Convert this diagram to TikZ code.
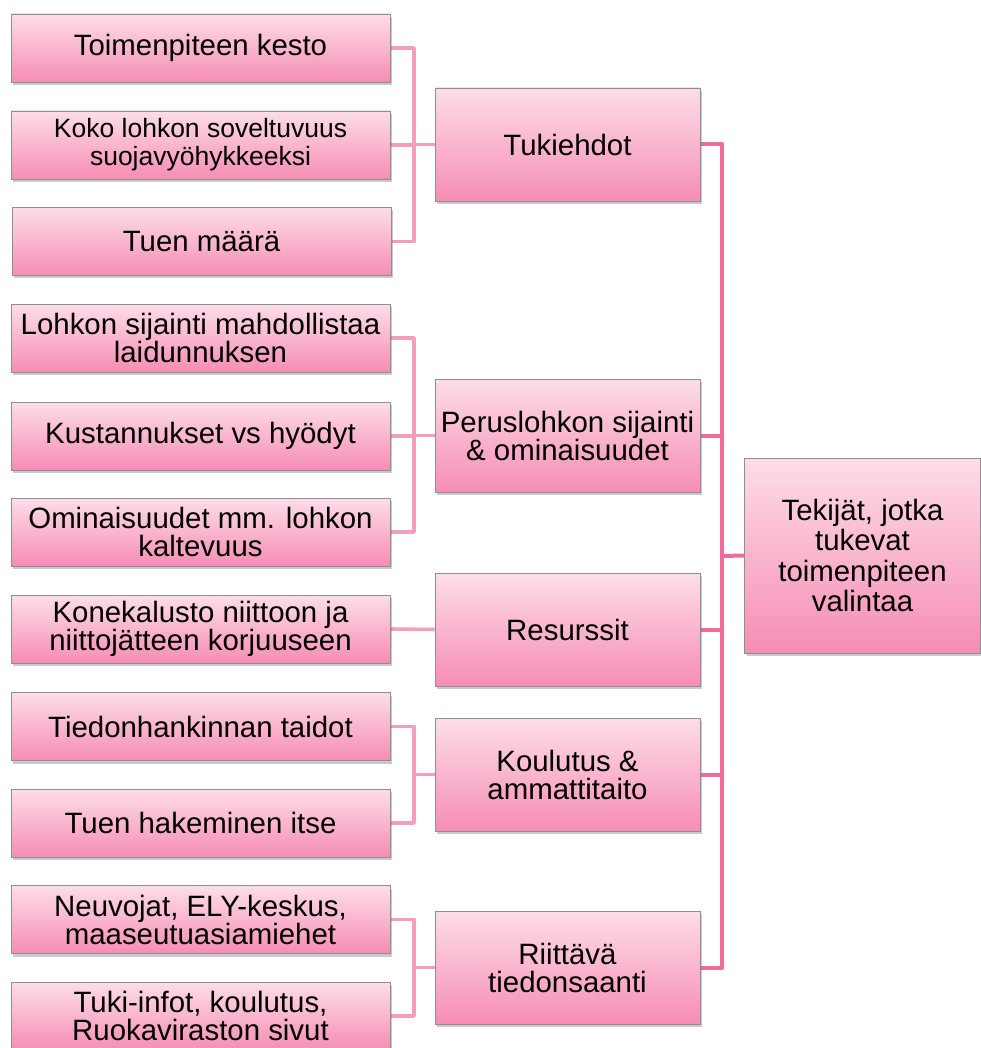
\documentclass[tikz,border=0pt]{standalone}
\usepackage{fontspec}
\setmainfont{Liberation Sans}
\usetikzlibrary{shadows,backgrounds,calc}
\definecolor{pinktop}{HTML}{FDDDE9}
\definecolor{pinkbot}{HTML}{F68DB5}
\definecolor{boxedge}{HTML}{8F8F8F}
\definecolor{linklight}{HTML}{F29EBC}
\definecolor{linkdark}{HTML}{EE6B9C}
\begin{document}
\begin{tikzpicture}[x=1pt,y=-1pt,
  box/.style={draw=boxedge, line width=0.8pt, top color=pinktop, bottom color=pinkbot,
    align=center, inner sep=1pt, font=\fontsize{29.4}{28}\selectfont,
    drop shadow={shadow xshift=2pt, shadow yshift=-3pt, opacity=0.35, fill=black!60}},
  leaf/.style={box, minimum width=379pt, minimum height=68pt},
  group/.style={box, minimum width=265pt, minimum height=113pt},
  rootbox/.style={box, minimum width=236pt, minimum height=195pt, font=\fontsize{29.4}{30.5}\selectfont},
  leaflink/.style={draw=linklight, line width=3.6pt, line join=round},
  rootlink/.style={draw=linkdark, line width=4pt, line join=round}]
\useasboundingbox (0,0) rectangle (980,1048);

% first level: groups of factors
\node[group] (g1) at (567.5,144.5) {Tukiehdot};
\node[group] (g2) at (567.5,435.5) {Peruslohkon sijainti\\\& ominaisuudet};
\node[group] (g3) at (567.5,629.5) {Resurssit};
\node[group] (g4) at (567.5,774.5) {Koulutus \&\\ammattitaito};
\node[group] (g5) at (567.5,967.5) {Riittävä\\tiedonsaanti};

% root box on the right
\node[rootbox] (root) at (862.5,555.5) {Tekijät, jotka\\tukevat\\toimenpiteen\\valintaa};

% leaves
\node[leaf] (a1) at (200.5,48) {Toimenpiteen kesto};
\node[leaf, font=\fontsize{26.5}{28}\selectfont] (a2) at (200.5,145) {Koko lohkon soveltuvuus\\suojavyöhykkeeksi};
\node[leaf] (a3) at (201.5,241.5) {Tuen määrä};
\node[leaf] (b1) at (200.5,338) {Lohkon sijainti mahdollistaa\\laidunnuksen};
\node[leaf] (b2) at (200.5,436) {Kustannukset vs hyödyt};
\node[leaf] (b3) at (200.5,532) {Ominaisuudet mm. lohkon\\kaltevuus};
\node[leaf] (c1) at (200.5,629) {Konekalusto niittoon ja\\niittojätteen korjuuseen};
\node[leaf] (d1) at (200.5,726.5) {Tiedonhankinnan taidot};
\node[leaf] (d2) at (200.5,823) {Tuen hakeminen itse};
\node[leaf] (e1) at (200.5,919.5) {Neuvojat, ELY-keskus,\\maaseutuasiamiehet};
\node[leaf] (e2) at (200.5,1016) {Tuki-infot, koulutus,\\Ruokaviraston sivut};

% junction points of the connector buses
\coordinate (ja) at (414,144.5);
\coordinate (jb) at (414,435.5);
\coordinate (jd) at (414,774.5);
\coordinate (je) at (414,967.5);
\coordinate (jr) at (722,556);

\begin{pgfonlayer}{background}
  \foreach \l in {a1,a2,a3} \draw[leaflink] (\l.east) -| (ja);
  \draw[leaflink] (ja) -- (g1.west);
  \foreach \l in {b1,b2,b3} \draw[leaflink] (\l.east) -| (jb);
  \draw[leaflink] (jb) -- (g2.west);
  \draw[leaflink] (c1.east) -- (g3.west);
  \foreach \l in {d1,d2} \draw[leaflink] (\l.east) -| (jd);
  \draw[leaflink] (jd) -- (g4.west);
  \foreach \l in {e1,e2} \draw[leaflink] (\l.east) -| (je);
  \draw[leaflink] (je) -- (g5.west);
  \foreach \g in {g1,g2,g3,g4,g5} \draw[rootlink] (\g.east) -| (jr);
  \draw[rootlink] (jr) -- (root.west);
\end{pgfonlayer}
\end{tikzpicture}
\end{document}
